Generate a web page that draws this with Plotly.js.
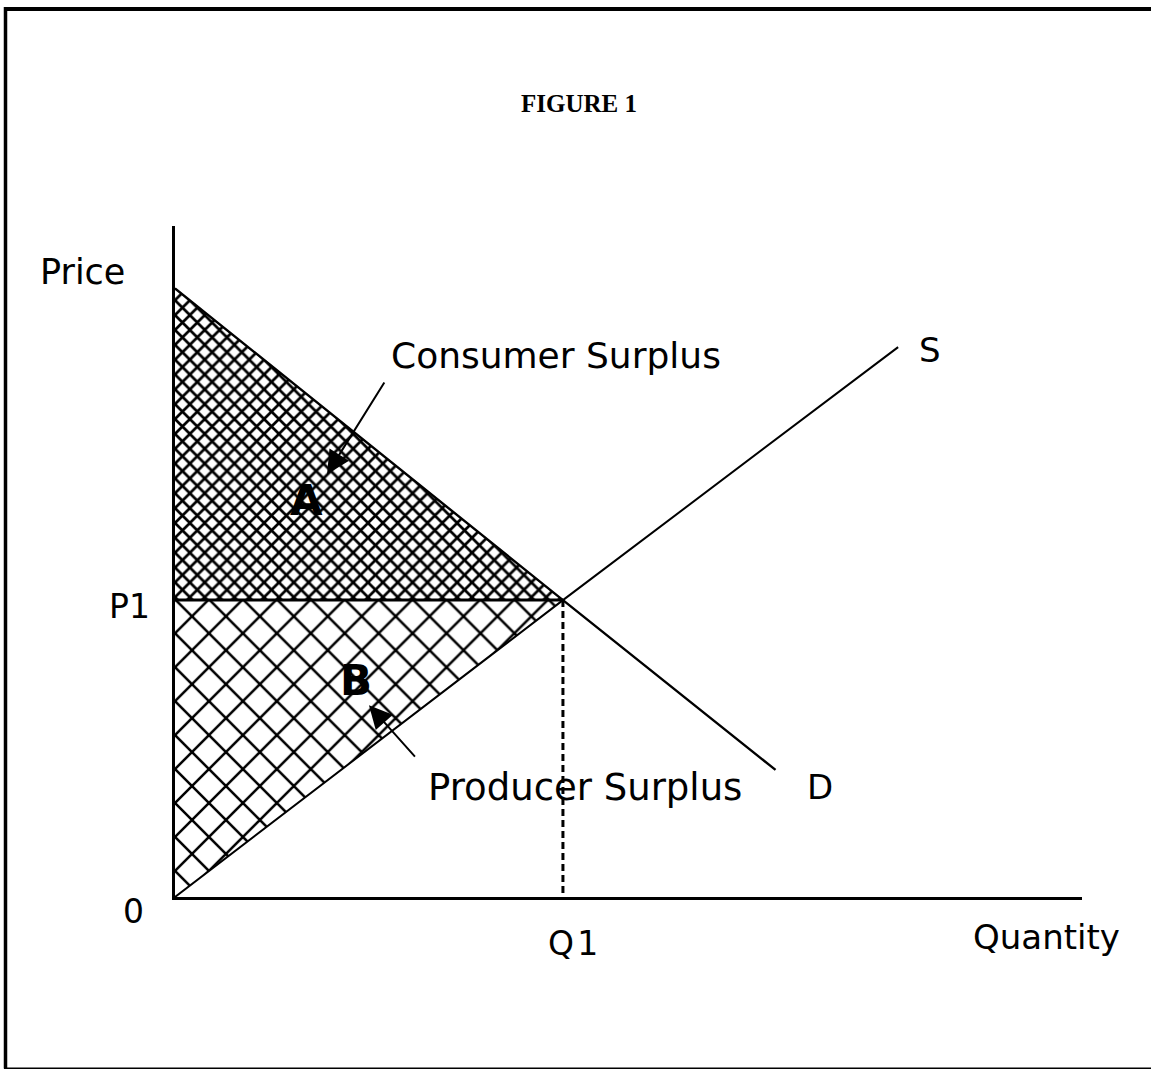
<!DOCTYPE html>
<html>
<head>
<meta charset="utf-8">
<script src="https://cdn.plot.ly/plotly-3.0.1.min.js"></script>
<style>
  html, body { margin: 0; padding: 0; background: #fff; }
  #chart { width: 1151px; height: 1069px; }
</style>
</head>
<body>
<div id="chart"></div>
<script>
// ---- data ----
const demandQ = [0, 50, 77.4];
const demandP = [102.5, 50, 21.4];
const supplyQ = [0, 50, 93.2];
const supplyP = [0, 50, 92.6];
const equilibrium = [50, 50];           // [Q1, P1]
const consumerQ = [0, 50, 0];
const consumerP = [102.5, 50, 50];
const producerQ = [0, 50, 0];
const producerP = [50, 50, 0];
const xTickLabels = ['Q\u200a1'];
const yTickLabels = ['P1'];
const axisTitles = ['Quantity', 'Price'];
const curveLabels = ['D', 'S'];
const areaLabels = ['A', 'B'];
const areaNames = ['Consumer Surplus', 'Producer Surplus'];

const Q1 = equilibrium[0], P1 = equilibrium[1];
const fontMain = 'DejaVu Sans, Liberation Sans, sans-serif';

const traces = [
  { // consumer surplus (fine crosshatch)
    x: consumerQ, y: consumerP, type: 'scatter', mode: 'lines',
    fill: 'toself', fillcolor: 'white',
    fillpattern: { shape: 'x', size: 10.5, solidity: 0.45, fgcolor: 'black', bgcolor: 'white' },
    line: { width: 0 }, hoverinfo: 'skip', showlegend: false
  },
  { // producer surplus (coarse crosshatch)
    x: producerQ, y: producerP, type: 'scatter', mode: 'lines',
    fill: 'toself', fillcolor: 'white',
    fillpattern: { shape: 'x', size: 24, solidity: 0.2, fgcolor: 'black', bgcolor: 'white' },
    line: { width: 0 }, hoverinfo: 'skip', showlegend: false
  },
  { // demand
    x: demandQ, y: demandP, type: 'scatter', mode: 'lines',
    line: { color: 'black', width: 2.4 }, showlegend: false
  },
  { // supply
    x: supplyQ, y: supplyP, type: 'scatter', mode: 'lines',
    line: { color: 'black', width: 2 }, showlegend: false
  },
  { // P1 price line
    x: [0, Q1], y: [P1, P1], type: 'scatter', mode: 'lines',
    line: { color: 'black', width: 3 }, showlegend: false
  },
  { // Q1 dotted drop line
    x: [Q1, Q1], y: [P1, 0], type: 'scatter', mode: 'lines',
    line: { color: 'black', width: 3, dash: '7px,4px' }, showlegend: false
  }
];

// pixel helpers for paper coordinates (plot area: x 175..1082, y 226..897)
const L = 175, R = 1082, T = 226, B = 897;
const px = v => (v - L) / (R - L);
const py = v => (B - v) / (B - T);

const txt = (size, bold) => ({ family: fontMain, size: size, color: 'black', weight: bold ? 'bold' : 'normal' });

const annotations = [
  { text: axisTitles[1], xref: 'paper', yref: 'paper', x: px(38), y: py(272), xanchor: 'left', yanchor: 'middle', showarrow: false, font: txt(35) },
  { text: axisTitles[0], xref: 'paper', yref: 'paper', x: px(1046), y: py(937), xanchor: 'center', yanchor: 'middle', showarrow: false, font: txt(34) },
  { text: yTickLabels[0], xref: 'paper', yref: 'y', x: px(152), y: P1, yshift: -6, xanchor: 'right', yanchor: 'middle', showarrow: false, font: txt(33) },
  { text: xTickLabels[0], xref: 'x', yref: 'paper', x: Q1, xshift: 10, y: py(943), xanchor: 'center', yanchor: 'middle', showarrow: false, font: txt(33) },
  { text: '0', xref: 'paper', yref: 'paper', x: px(133), y: py(911), xanchor: 'center', yanchor: 'middle', showarrow: false, font: txt(33) },
  { text: areaNames[0], xref: 'x', yref: 'y', x: 27.6, y: 91.2, xanchor: 'left', yanchor: 'middle', showarrow: false, font: txt(36) },
  { text: areaNames[1], xref: 'x', yref: 'y', x: 32.3, y: 18.5, xanchor: 'left', yanchor: 'middle', showarrow: false, font: txt(37) },
  { text: curveLabels[1], xref: 'x', yref: 'y', x: 97.3, y: 92.1, xanchor: 'center', yanchor: 'middle', showarrow: false, font: txt(34) },
  { text: curveLabels[0], xref: 'x', yref: 'y', x: 83.1, y: 18.5, xanchor: 'center', yanchor: 'middle', showarrow: false, font: txt(34) },
  { text: '<b>' + areaLabels[0] + '</b>', xref: 'x', yref: 'y', x: 16.9, y: 66.8, xanchor: 'center', yanchor: 'middle', showarrow: false, font: txt(42, true) },
  { text: '<b>' + areaLabels[1] + '</b>', xref: 'x', yref: 'y', x: 23.3, y: 36.4, xanchor: 'center', yanchor: 'middle', showarrow: false, font: txt(42, true) },
  // pointer arrows
  { text: '', xref: 'x', yref: 'y', x: 19.6, y: 71.2, axref: 'x', ayref: 'y', ax: 27.1, ay: 86.9,
    showarrow: true, arrowhead: 2, arrowsize: 2.3, arrowwidth: 2, arrowcolor: 'black', standoff: 0, startstandoff: 0 },
  { text: '', xref: 'x', yref: 'y', x: 25.0, y: 32.3, axref: 'x', ayref: 'y', ax: 31.1, ay: 23.4,
    showarrow: true, arrowhead: 2, arrowsize: 2.3, arrowwidth: 2, arrowcolor: 'black', standoff: 0, startstandoff: 0 }
];

const shapes = [
  // outer frame (left, top, bottom)
  { type: 'line', xref: 'paper', yref: 'paper', x0: px(5.5), x1: px(5.5), y0: py(7), y1: py(1068.5), line: { color: 'black', width: 3.5 } },
  { type: 'line', xref: 'paper', yref: 'paper', x0: px(4), x1: px(1151), y0: py(9), y1: py(9), line: { color: 'black', width: 4 } },
  { type: 'line', xref: 'paper', yref: 'paper', x0: px(4), x1: px(1151), y0: py(1068.3), y1: py(1068.3), line: { color: 'black', width: 1.5 } }
];

const layout = {
  width: 1151, height: 1069,
  margin: { l: L, r: 1151 - R, t: T, b: 1069 - B, pad: 0 },
  paper_bgcolor: 'white', plot_bgcolor: 'white',
  showlegend: false,
  title: {
    text: '<b>FIGURE 1</b>',
    font: { family: 'Liberation Serif, Times New Roman, serif', size: 25, color: 'black' },
    x: 579 / 1151, xanchor: 'center', xref: 'container',
    y: 1 - 103 / 1069, yanchor: 'middle', yref: 'container'
  },
  xaxis: {
    range: [0, 116.9], showline: true, linecolor: 'black', linewidth: 3,
    showgrid: false, zeroline: false, showticklabels: false, ticks: '', fixedrange: true
  },
  yaxis: {
    range: [0, 113], showline: true, linecolor: 'black', linewidth: 3,
    showgrid: false, zeroline: false, showticklabels: false, ticks: '', fixedrange: true
  },
  annotations: annotations,
  shapes: shapes
};

Plotly.newPlot('chart', traces, layout, { displayModeBar: false, staticPlot: true });
</script>
</body>
</html>
